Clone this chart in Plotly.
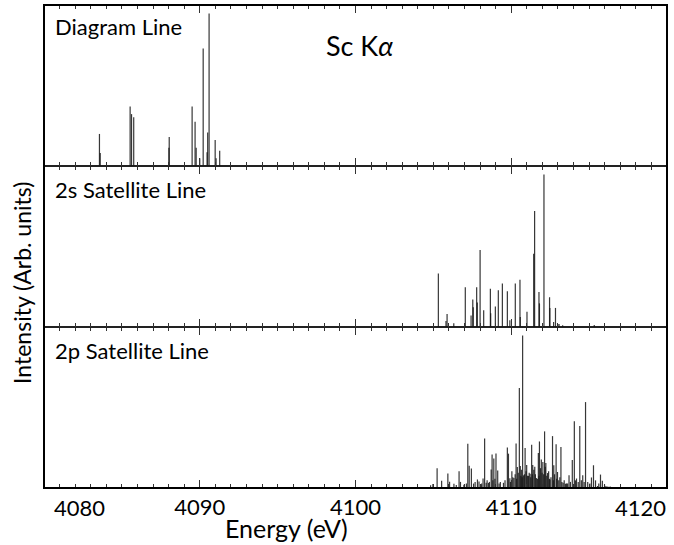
import plotly.graph_objects as go

# ---------------- data (energies in eV, normalized intensities) ----------------
diag_energy = [4083.56, 4083.61, 4085.53, 4085.62, 4085.76, 4088.02, 4088.04,
               4089.51, 4089.70, 4089.77, 4090.00, 4090.22, 4090.47, 4090.51,
               4090.60, 4090.99, 4091.05, 4091.28]
diag_int = [0.21, 0.085, 0.39, 0.34, 0.32, 0.12, 0.19,
            0.39, 0.29, 0.12, 0.05, 0.77, 0.09, 0.22,
            1.00, 0.17, 0.05, 0.10]

s2_energy = [4105.32, 4105.81, 4105.88, 4106.31, 4107.05, 4107.42, 4107.53, 4107.56,
             4107.78, 4107.82, 4108.00, 4108.23, 4108.66, 4108.68, 4108.98, 4109.17,
             4109.43, 4109.75, 4109.91, 4110.26, 4110.56, 4110.58, 4111.01, 4111.44,
             4111.50, 4111.78, 4111.81, 4112.10, 4112.46, 4112.48, 4112.72, 4112.84,
             4112.99, 4113.07, 4113.30, 4115.33]
s2_int = [0.35, 0.04, 0.085, 0.025, 0.26, 0.075, 0.18, 0.13,
          0.26, 0.16, 0.505, 0.11, 0.25, 0.09, 0.135, 0.24,
          0.285, 0.235, 0.045, 0.285, 0.31, 0.065, 0.10, 0.48,
          0.76, 0.23, 0.155, 1.00, 0.195, 0.125, 0.033, 0.125,
          0.02, 0.02, 0.012, 0.013]

p2_energy = [4104.82, 4104.97, 4105.24, 4105.53, 4105.93, 4106.04, 4106.32, 4106.47,
             4106.65, 4106.74, 4106.96, 4107.21, 4107.30, 4107.44, 4107.58, 4107.83,
             4107.93, 4108.05, 4108.19, 4108.29, 4108.39, 4108.54, 4108.71, 4108.77,
             4108.88, 4109.02, 4109.13, 4109.50, 4109.75, 4109.82, 4109.91, 4110.04,
             4110.17, 4110.31, 4110.39, 4110.52, 4110.58, 4110.73, 4110.79, 4110.89,
             4110.99, 4111.11, 4111.21, 4111.31, 4111.38, 4111.51, 4111.62, 4111.74,
             4111.81, 4111.93, 4112.03, 4112.14, 4112.22, 4112.33, 4112.49, 4112.65,
             4112.73, 4112.88, 4112.97, 4113.19, 4113.33, 4113.48, 4113.62, 4113.71,
             4113.92, 4114.05, 4114.19, 4114.40, 4114.59, 4114.77, 4114.91, 4115.15,
             4115.28, 4115.41, 4115.54, 4115.73, 4115.85, 4115.99, 4116.08]
p2_int = [0.018, 0.026, 0.13, 0.047, 0.095, 0.041, 0.028, 0.02,
          0.11, 0.04, 0.022, 0.29, 0.145, 0.127, 0.029, 0.056,
          0.043, 0.018, 0.062, 0.324, 0.035, 0.033, 0.121, 0.219,
          0.193, 0.226, 0.115, 0.034, 0.265, 0.225, 0.064, 0.11,
          0.066, 0.291, 0.138, 0.655, 0.144, 1.00, 0.083, 0.262,
          0.151, 0.079, 0.094, 0.284, 0.15, 0.14, 0.065, 0.229,
          0.305, 0.187, 0.17, 0.371, 0.164, 0.098, 0.056, 0.34,
          0.149, 0.286, 0.105, 0.268, 0.034, 0.028, 0.029, 0.083,
          0.183, 0.437, 0.062, 0.407, 0.083, 0.563, 0.039, 0.069,
          0.149, 0.05, 0.013, 0.088, 0.048, 0.022, 0.013]

# weak, densely packed 2p lines near the baseline
p2_weak_energy = [4107.12, 4107.68, 4108.10, 4108.45, 4108.60, 4108.82, 4108.95, 4109.22,
                  4109.30, 4109.60, 4109.95, 4110.10, 4110.25, 4110.35, 4110.45, 4110.62,
                  4110.65, 4110.70, 4110.85, 4110.95, 4111.05, 4111.15, 4111.25, 4111.35,
                  4111.45, 4111.55, 4111.68, 4111.78, 4111.88, 4111.98, 4112.08, 4112.18,
                  4112.28, 4112.40, 4112.45, 4112.55, 4112.70, 4112.78, 4112.92, 4113.05,
                  4113.12, 4113.25, 4113.40, 4113.55, 4113.80, 4114.12, 4114.30, 4114.50,
                  4114.68, 4115.05, 4115.62, 4116.20, 4116.35]
p2_weak_int = [0.03, 0.04, 0.03, 0.05, 0.04, 0.05, 0.06, 0.03,
               0.04, 0.05, 0.04, 0.07, 0.09, 0.06, 0.10, 0.08,
               0.12, 0.07, 0.09, 0.11, 0.08, 0.10, 0.07, 0.09,
               0.12, 0.09, 0.06, 0.08, 0.13, 0.10, 0.09, 0.14,
               0.08, 0.11, 0.06, 0.07, 0.05, 0.09, 0.06, 0.05,
               0.07, 0.04, 0.05, 0.03, 0.04, 0.05, 0.04, 0.05,
               0.04, 0.03, 0.03, 0.01, 0.01]

panel_labels = ["Diagram Line", "2s Satellite Line", "2p Satellite Line"]
x_tick_values = [4080, 4090, 4100, 4110, 4120]
x_range = [4080, 4120]

FONT = "Lato, 'Open Sans', 'DejaVu Sans', sans-serif"
LINE_COLOR = "rgba(20,20,20,0.85)"


def sticks(energies, intensities):
    xs, ys = [], []
    for e, h in zip(energies, intensities):
        xs += [e, e, None]
        ys += [0, h, None]
    return xs, ys


fig = go.Figure()
series = [
    (diag_energy, diag_int, "x3", "y3"),
    (s2_energy, s2_int, "x2", "y2"),
    (p2_weak_energy, p2_weak_int, "x", "y"),
    (p2_energy, p2_int, "x", "y"),
]
for e, h, xa, ya in series:
    xs, ys = sticks(e, h)
    fig.add_trace(go.Scatter(x=xs, y=ys, mode="lines", xaxis=xa, yaxis=ya,
                             line=dict(color=LINE_COLOR, width=1.2),
                             hoverinfo="skip", showlegend=False))

common_x = dict(range=x_range, showline=True, linecolor="#222", linewidth=1,
                mirror="allticks", ticks="inside", ticklen=8, tickwidth=1,
                tickcolor="#333", tickmode="array", tickvals=x_tick_values,
                minor=dict(ticks="inside", ticklen=4, dtick=1, tick0=4080,
                           tickcolor="#333", tickwidth=1),
                showgrid=False, zeroline=False, fixedrange=True)
common_y = dict(range=[0, 1.055], showline=True, linecolor="#222", linewidth=1,
                mirror=True, ticks="", showticklabels=False, showgrid=False,
                zeroline=False, fixedrange=True)

third = 1 / 3
fig.update_layout(
    width=674, height=545, autosize=False,
    margin=dict(l=44, r=7, t=5, b=57),
    paper_bgcolor="white", plot_bgcolor="white",
    font=dict(family=FONT, color="black"),
    xaxis=dict(common_x, anchor="y", showticklabels=True,
               ticktext=["", "4090", "4100", "4110", ""],
               tickfont=dict(size=22, family=FONT, color="black")),
    xaxis2=dict(common_x, anchor="y2", showticklabels=False, matches="x"),
    xaxis3=dict(common_x, anchor="y3", showticklabels=False, matches="x"),
    yaxis=dict(common_y, domain=[0, third], anchor="x"),
    yaxis2=dict(common_y, domain=[third, 2 * third], anchor="x2"),
    yaxis3=dict(common_y, domain=[2 * third, 1], anchor="x3"),
)

# outer frame (heavier)
fig.add_shape(type="rect", xref="paper", yref="paper", x0=0, x1=1, y0=0, y1=1,
              line=dict(color="black", width=2), fillcolor="rgba(0,0,0,0)", layer="above")

ann_font = dict(family=FONT, size=22, color="black")
label_y = [0.9565, 0.619, 0.2857]
for text, yy in zip(panel_labels, label_y):
    fig.add_annotation(text=text, xref="paper", yref="paper", x=0.0137, y=yy,
                       xanchor="left", yanchor="middle", showarrow=False, font=ann_font)

fig.add_annotation(text="Sc K<i>α</i>", xref="paper", yref="paper", x=0.507, y=0.917,
                   xanchor="center", yanchor="middle", showarrow=False,
                   font=dict(family=FONT, size=27, color="black"))

# end tick labels placed just inside the frame, as in the original
fig.add_annotation(text=str(x_tick_values[0]), xref="x", yref="paper",
                   x=x_tick_values[0], y=-0.041, xanchor="left", yanchor="middle",
                   xshift=8, showarrow=False, font=dict(family=FONT, size=22, color="black"))
fig.add_annotation(text=str(x_tick_values[-1]), xref="x", yref="paper",
                   x=x_tick_values[-1], y=-0.041, xanchor="right", yanchor="middle",
                   xshift=1, showarrow=False, font=dict(family=FONT, size=22, color="black"))

fig.add_annotation(text="Energy (eV)", xref="paper", yref="paper", x=0.3896, y=-0.082,
                   xanchor="center", yanchor="middle", showarrow=False,
                   font=dict(family=FONT, size=25, color="black"))
fig.add_annotation(text="Intensity (Arb. units)", xref="paper", yref="paper",
                   x=-0.035, y=0.425, xanchor="center", yanchor="middle",
                   textangle=-90, showarrow=False,
                   font=dict(family=FONT, size=23, color="black"))

fig.write_html("out.html", config={"displayModeBar": False},
               post_script="document.body.style.margin='0';")
